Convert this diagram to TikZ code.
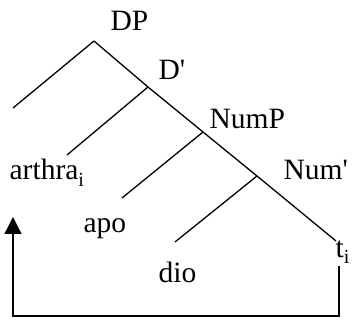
\documentclass[tikz,border=0pt]{standalone}
\usepackage{fontspec}
\setmainfont{Liberation Serif}
\usetikzlibrary{arrows.meta}
\newcommand\idx[1]{\raisebox{-0.22em}{\fontsize{20}{20}\selectfont #1}}
\tikzset{lbl/.style={anchor=base west,inner sep=0pt,font=\fontsize{29.5}{31}\selectfont}}
\begin{document}
\begin{tikzpicture}[x=1pt,y=-1pt,line width=1.3pt]
\useasboundingbox (0,0) rectangle (353,320);
% branching points
\coordinate (dp) at (94,41);
\coordinate (dbar) at (148,87);
\coordinate (nump) at (203,132);
\coordinate (numbar) at (257,176);
\coordinate (tend) at (336,241);
% labels
\foreach \x/\y/\name/\xtext in {110/31/DPl/DP,158/80/Dbl/D\textquotesingle,209/129/NumPl/NumP,283/180/Numbl/Num\textquotesingle,
  9/180/arthra/arthra\idx{i},83/233/apo/apo,158/282/dio/dio,335/257/ti/t\idx{i}}
{
    \node[lbl] (\name) at (\x,\y){\xtext};
}
% left branches
\foreach \from/\x/\y in {dp/13/108,dbar/67/155,nump/122/198,numbar/175/242}
{
    \draw (\from)--(\x,\y);
}
\draw (dp)--(dbar)--(nump)--(numbar)--(tend);
% movement arrow
\coordinate (tfoot) at (339,266);
\coordinate (atop) at (13,217);
\draw[-{Triangle[length=17pt,width=17pt]}] (tfoot)--(339,316)-|(atop);
\end{tikzpicture}
\end{document}
